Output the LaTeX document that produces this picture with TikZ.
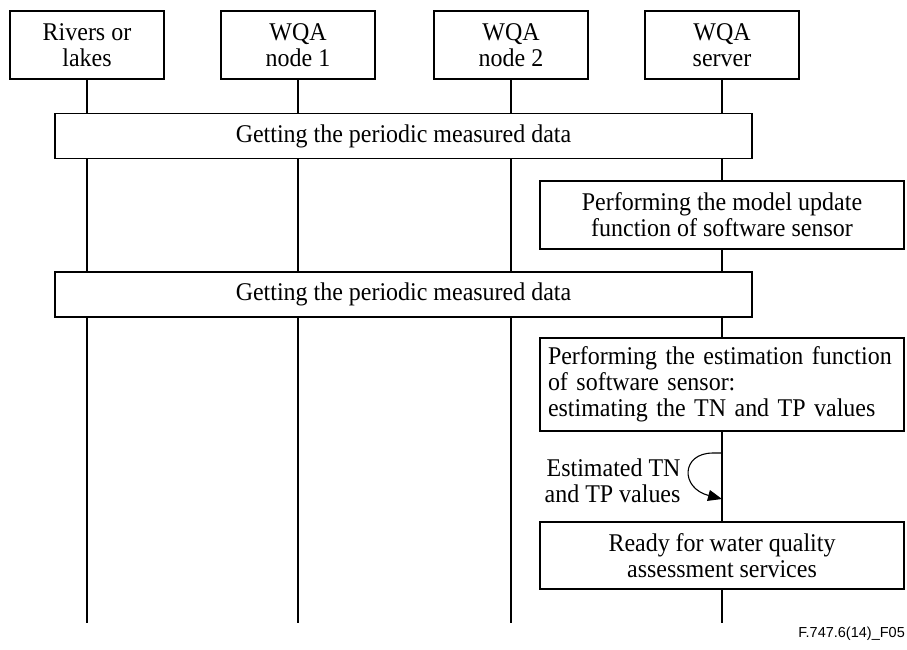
\documentclass[tikz,border=0pt]{standalone}
\usepackage{fontspec}
\setmainfont{Liberation Serif}[FakeStretch=0.94]
\newfontfamily\figsans{Liberation Sans}
\usetikzlibrary{arrows.meta,backgrounds}

\begin{document}
\begin{tikzpicture}[x=1pt,y=-1pt,
  every node/.style={font=\fontsize{25.5}{26}\selectfont},
  actor/.style={draw,fill=white,line width=1.1pt,minimum width=154pt,minimum height=68pt,inner sep=0pt,align=center},
  bar/.style={draw,fill=white,line width=1.1pt,minimum width=697pt,minimum height=45pt,inner sep=0pt,align=center},
  task/.style={draw,fill=white,line width=1.1pt,minimum width=364pt,inner sep=0pt,align=center},
  lifeline/.style={line width=1.1pt},
  selfmsg/.style={line width=1.1pt,-{Triangle[length=14pt,width=11pt]}}
]
\useasboundingbox (0,0) rectangle (907,649);

% participants
\node[actor] (river) at (87,45)  {Rivers or\\lakes};
\node[actor] (node1) at (298,45) {WQA\\node 1};
\node[actor] (node2) at (511,45) {WQA\\node 2};
\node[actor] (server) at (722,45) {WQA\\server};

% end points of the lifelines
\coordinate (riverEnd)  at (87,623);
\coordinate (node1End)  at (298,623);
\coordinate (node2End)  at (511,623);
\coordinate (serverEnd) at (722,623);

% steps
\node[bar] (get1) at (403.5,136) {Getting the periodic measured data};
\node[task,minimum height=68pt] (update) at (722,215) {Performing the model update\\function of software sensor};
\node[bar] (get2) at (403.5,294.5) {Getting the periodic measured data};
\node[task,minimum height=93pt,align=left,text width=348pt,inner xsep=8pt] (estimate) at (722,384.5)
  {Performing the estimation function\\of software sensor:\\estimating the TN and TP values};
\node[task,minimum height=67pt] (ready) at (722,555.5) {Ready for water quality\\assessment services};

% self message on the server lifeline
\coordinate (loopStart) at (722,453);
\coordinate (loopEnd) at (722,499);
\draw[selfmsg] (loopStart) -- (713,453) .. controls (681,453) and (680,488) .. (loopEnd);
\node[anchor=east,align=right] (estlabel) at (684,481) {Estimated TN\\and TP values};

\begin{scope}[on background layer]
  \draw[lifeline] (river.south) -- (riverEnd);
  \draw[lifeline] (node1.south) -- (node1End);
  \draw[lifeline] (node2.south) -- (node2End);
  \draw[lifeline] (server.south) -- (serverEnd);
\end{scope}

\node[anchor=base east,inner sep=0pt,font=\figsans\fontsize{14.5}{17}\selectfont] (figid) at (905,637) {F.747.6(14)\_F05};
\end{tikzpicture}
\end{document}
